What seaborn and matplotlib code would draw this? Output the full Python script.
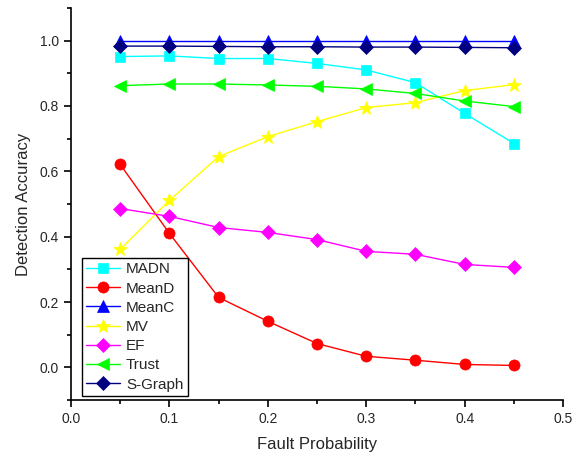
import numpy as np
import pandas as pd
import matplotlib
matplotlib.use('Agg')
import matplotlib.pyplot as plt
import seaborn as sns
from matplotlib.ticker import MultipleLocator

# fault probabilities on the x axis
fault_prob = [0.05, 0.10, 0.15, 0.20, 0.25, 0.30, 0.35, 0.40, 0.45]

madn = [0.951, 0.953, 0.945, 0.945, 0.930, 0.910, 0.871, 0.777, 0.685]
mean_d = [0.621, 0.410, 0.214, 0.141, 0.073, 0.034, 0.022, 0.009, 0.006]
mean_c = [1.0, 1.0, 1.0, 1.0, 1.0, 1.0, 1.0, 1.0, 1.0]
mv = [0.361, 0.511, 0.645, 0.706, 0.752, 0.795, 0.810, 0.847, 0.865]
ef = [0.486, 0.462, 0.428, 0.413, 0.391, 0.355, 0.346, 0.315, 0.306]
trust = [0.862, 0.867, 0.867, 0.864, 0.860, 0.852, 0.838, 0.815, 0.798]
s_graph = [0.983, 0.983, 0.982, 0.981, 0.981, 0.980, 0.980, 0.979, 0.978]

series = [
    ('MADN', madn, '#00FFFF', 's'),
    ('MeanD', mean_d, '#FF0000', 'o'),
    ('MeanC', mean_c, '#0000FF', '^'),
    ('MV', mv, '#FFFF00', '*'),
    ('EF', ef, '#FF00FF', 'D'),
    ('Trust', trust, '#00FF00', '<'),
    ('S-Graph', s_graph, '#000080', 'D'),
]
marker_size = {'s': 7.5, 'o': 8, '^': 8.5, '*': 10.5, 'D': 7, '<': 8.5}

sns.set_style('ticks')
plt.rcParams['font.family'] = ['Liberation Sans', 'DejaVu Sans']

fig = plt.figure(figsize=(5.77, 4.62), dpi=100)
ax = fig.add_axes([0.123, 0.134, 0.853, 0.849])

for name, vals, color, mk in series:
    df = pd.DataFrame({'x': fault_prob, 'y': vals})
    sns.lineplot(data=df, x='x', y='y', ax=ax, color=color, marker=mk,
                 markersize=marker_size[mk], markeredgecolor=color,
                 markeredgewidth=0.5, linewidth=1, label=name)

ax.set_xlim(0.0, 0.5)
ax.set_ylim(-0.1, 1.1)
ax.xaxis.set_major_locator(MultipleLocator(0.1))
ax.xaxis.set_minor_locator(MultipleLocator(0.05))
ax.yaxis.set_major_locator(MultipleLocator(0.2))
ax.yaxis.set_minor_locator(MultipleLocator(0.1))
ax.set_yticks([0.0, 0.2, 0.4, 0.6, 0.8, 1.0])
ax.tick_params(which='major', direction='out', length=5, width=1.2, labelsize=10, color='black')
ax.tick_params(which='minor', direction='out', length=3, width=1.2, color='black')
sns.despine(ax=ax)
for sp in ['left', 'bottom']:
    ax.spines[sp].set_linewidth(1.2)
    ax.spines[sp].set_color('black')

ax.set_xlabel('Fault Probability', fontsize=12, labelpad=8)
ax.set_ylabel('Detection Accuracy', fontsize=12, labelpad=6)

leg = ax.legend(loc='lower left', bbox_to_anchor=(0.022, 0.01), fontsize=11,
                frameon=True, fancybox=False, edgecolor='black', framealpha=1,
                handlelength=2.2, handletextpad=0.4, borderpad=0.3, labelspacing=0.34,
                borderaxespad=0)
leg.get_frame().set_linewidth(1)

fig.savefig('out.png', dpi=100)
